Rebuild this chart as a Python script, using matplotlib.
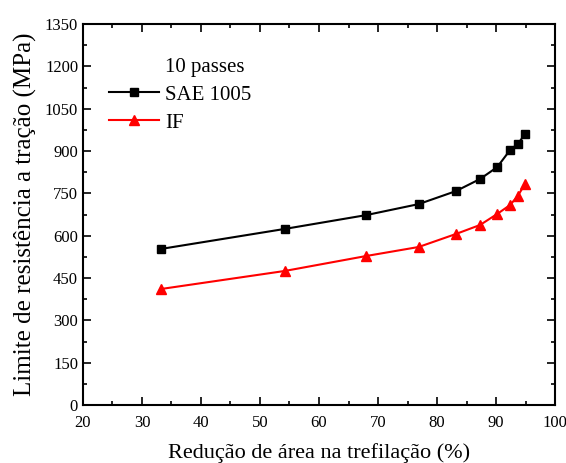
import matplotlib.pyplot as plt
from matplotlib.ticker import MultipleLocator

reducao_sae = [33.2, 54.2, 68.0, 76.9, 83.2, 87.3, 90.2, 92.4, 93.7, 94.9]
limite_sae = [553, 624, 673, 712, 758, 801, 843, 904, 925, 960]

reducao_if = [33.2, 54.2, 68.0, 76.9, 83.2, 87.3, 90.2, 92.4, 93.7, 94.9]
limite_if = [411, 475, 528, 560, 606, 638, 677, 709, 741, 783]

if __name__ == "__main__":
    plt.rcParams['font.family'] = ['Liberation Serif', 'DejaVu Serif']

    fig = plt.figure(figsize=(5.66, 4.63), dpi=100)
    ax = fig.add_axes([0.1466, 0.1253, 0.834, 0.8227])

    ax.plot(reducao_sae, limite_sae, color='black', marker='s', markersize=6,
            linewidth=1.5, label='SAE 1005')
    ax.plot(reducao_if, limite_if, color='red', marker='^', markersize=7.5,
            linewidth=1.5, label='IF')

    ax.set_xlim(20, 100)
    ax.set_ylim(0, 1350)
    ax.xaxis.set_major_locator(MultipleLocator(10))
    ax.xaxis.set_minor_locator(MultipleLocator(5))
    ax.yaxis.set_major_locator(MultipleLocator(150))
    ax.yaxis.set_minor_locator(MultipleLocator(75))
    ax.tick_params(which='both', direction='in', top=True, right=True,
                   labelsize=12, width=1.2)
    ax.tick_params(which='major', length=6)
    ax.tick_params(which='minor', length=3)
    ax.tick_params(axis='x', which='major', pad=7)
    for s in ax.spines.values():
        s.set_linewidth(1.5)

    ax.set_xlabel('Redução de área na trefilação (%)', fontsize=16, labelpad=9)
    ax.set_ylabel('Limite de resistência a tração (MPa)', fontsize=18, labelpad=6)

    ax.text(0.174, 0.885, '10 passes', transform=ax.transAxes, fontsize=15,
            ha='left', va='center')
    ax.legend(loc='upper left', bbox_to_anchor=(0.055, 0.84), frameon=False,
              fontsize=15, numpoints=1, handlelength=2.4, handletextpad=0.3,
              labelspacing=0.4, borderaxespad=0, borderpad=0)

    fig.savefig('out.png', dpi=100)
